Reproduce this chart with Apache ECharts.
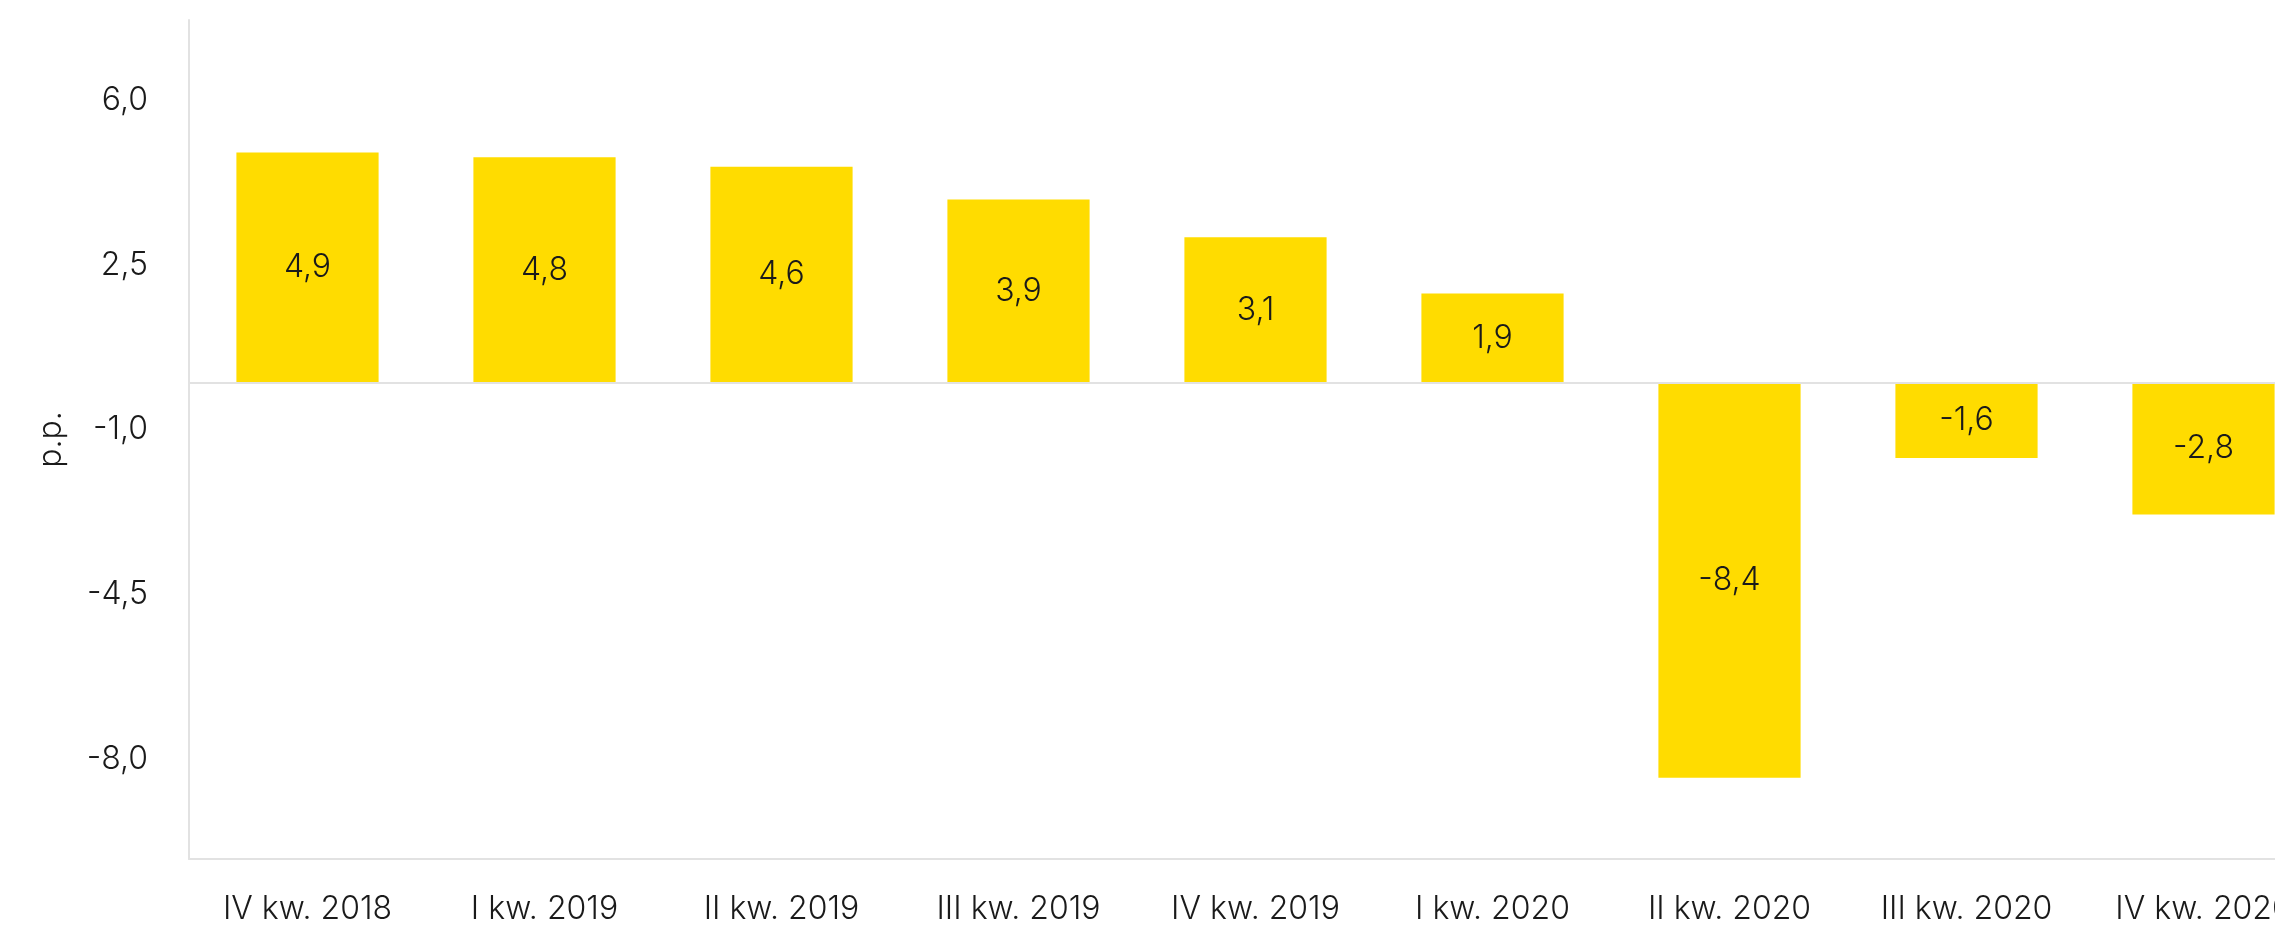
<!DOCTYPE html>
<html>
<head>
<meta charset="utf-8">
<script src="https://cdn.jsdelivr.net/npm/echarts@6/dist/echarts.min.js"></script>
<style>
  html, body { margin: 0; padding: 0; background: #ffffff; overflow: hidden; }
  /* the drawing surface is wider than the window, so the last column is cut off at the right edge */
  #chart { width: 2322px; height: 925px; }
</style>
</head>
<body>
<div id="chart"></div>
<script>
// Quarterly change, percentage points
const categories = ['IV kw. 2018', 'I kw. 2019', 'II kw. 2019', 'III kw. 2019', 'IV kw. 2019',
                    'I kw. 2020', 'II kw. 2020', 'III kw. 2020', 'IV kw. 2020'];
const values = [4.9, 4.8, 4.6, 3.9, 3.1, 1.9, -8.4, -1.6, -2.8];
const yTicks = [-8, -4.5, -1, 2.5, 6];

const FONT = 'Inter, "Helvetica Neue", Arial, sans-serif';
const TEXT = '#1a1a1a';
const LINE = '#e2e2e2';
const fmt = v => v.toFixed(1).replace('.', ',');

const chart = echarts.init(document.getElementById('chart'), null, { renderer: 'canvas' });
chart.setOption({
  backgroundColor: '#ffffff',
  animation: false,
  grid: { left: 189, right: 0, top: 20, bottom: 66, outerBoundsMode: 'none' },
  xAxis: {
    type: 'category',
    data: categories,
    axisLine: { onZero: false, lineStyle: { color: LINE, width: 2 } },
    axisTick: { show: false },
    axisLabel: {
      interval: 0, margin: 34, color: TEXT,
      fontFamily: FONT, fontWeight: 300, fontSize: 32
    },
    splitLine: { show: false }
  },
  yAxis: {
    type: 'value',
    min: -10.13,
    max: 7.72,
    name: 'p.p.',
    nameLocation: 'middle',
    nameGap: 122,
    nameRotate: 90,
    nameTextStyle: { color: TEXT, fontFamily: FONT, fontWeight: 300, fontSize: 32 },
    axisLine: { show: true, lineStyle: { color: LINE, width: 2 } },
    axisTick: { show: false },
    splitLine: { show: false },
    axisLabel: {
      customValues: yTicks,
      margin: 41, color: TEXT,
      fontFamily: FONT, fontWeight: 300, fontSize: 32,
      formatter: v => fmt(v)
    }
  },
  series: [{
    type: 'bar',
    data: values,
    barCategoryGap: '40%',
    itemStyle: { color: '#FFDC00' },
    label: {
      show: true, position: 'inside', color: TEXT,
      fontFamily: FONT, fontWeight: 300, fontSize: 32,
      formatter: p => fmt(p.value)
    },
    markLine: {
      silent: true,
      symbol: 'none',
      label: { show: false },
      lineStyle: { color: LINE, width: 2, type: 'solid' },
      data: [{ yAxis: 0 }]
    }
  }]
});
</script>
</body>
</html>
